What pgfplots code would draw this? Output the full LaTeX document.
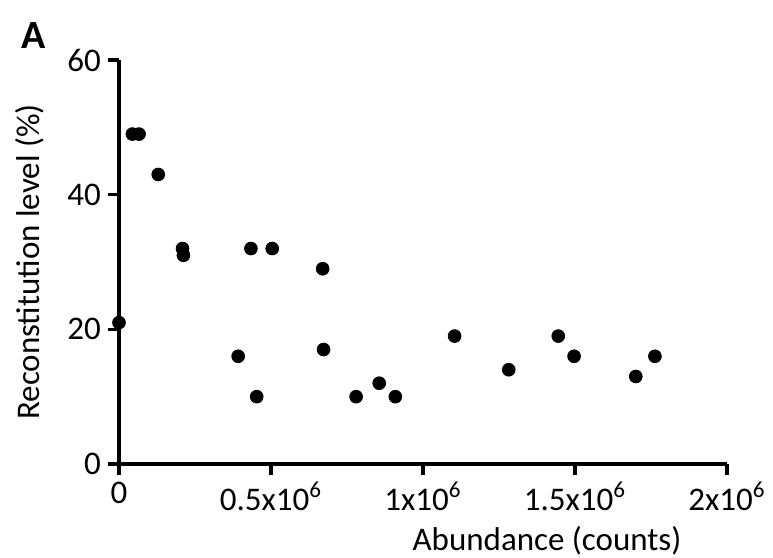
\documentclass[border=0pt]{standalone}
\usepackage{pgfplots}
\pgfplotsset{compat=1.18}
\usepackage{fontspec}
\setmainfont{Carlito}
\begin{document}
\begin{tikzpicture}[x=1pt,y=1pt]
\path[use as bounding box] (-59.5,-47) rectangle (327,232);
\begin{axis}[
  at={(0,0)}, anchor=south west,
  scale only axis, width=304pt, height=202pt,
  xmin=0, xmax=2000000, ymin=0, ymax=60,
  axis lines=left,
  axis line style={-, line width=1.6pt},
  clip=false,
  xtick={0,500000,1000000,1500000,2000000},
  xticklabels={0,0.5x10\textsuperscript{6},1x10\textsuperscript{6},1.5x10\textsuperscript{6},2x10\textsuperscript{6}},
  ytick={0,20,40,60},
  yticklabels={0,20,40,60},
  scaled x ticks=false,
  tick align=outside,
  major tick length=5.5pt,
  tick style={line width=1.6pt, black},
  tick label style={font=\fontsize{16.5}{19}\selectfont},
  label style={font=\fontsize{16.5}{19}\selectfont},
  xlabel={Abundance (counts)},
  ylabel={Reconstitution level (\%)},
  xlabel style={at={(axis description cs:0.704,0)}, anchor=center, yshift=-38.5pt},
  ylabel style={at={(axis description cs:0,0.5)}, anchor=center, rotate=0, yshift=44.5pt},
]
\addplot[only marks, mark=*, mark size=3.2pt, black] table {
x y
0 21
44000 49
66000 49
129000 43
209000 32
212000 31
392000 16
434000 32
453000 10
504000 32
670000 29
673000 17
780000 10
856000 12
909000 10
1104000 19
1282000 14
1445000 19
1497000 16
1700000 13
1763000 16
};
\end{axis}
\node[font=\fontsize{20}{23}\selectfont\bfseries] at (-42.5,214) {A};
\end{tikzpicture}
\end{document}
